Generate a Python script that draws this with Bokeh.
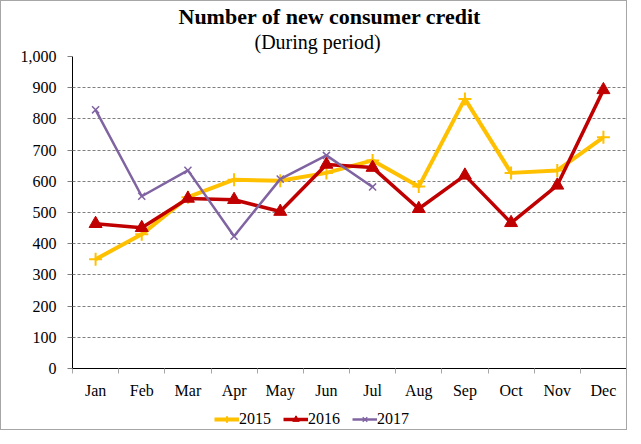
from bokeh.plotting import figure
from bokeh.layouts import column
from bokeh.models import (Range1d, FixedTicker, NumeralTickFormatter, Legend,
                          LegendItem, Title, ColumnDataSource)
from bokeh.embed import file_html
from bokeh.resources import INLINE

months = ["Jan", "Feb", "Mar", "Apr", "May", "Jun",
          "Jul", "Aug", "Sep", "Oct", "Nov", "Dec"]
credit_2015 = [350, 430, 549, 605, 602, 627, 667, 583, 864, 627, 635, 741]
credit_2016 = [464, 451, 545, 541, 503, 654, 644, 512, 619, 467, 587, 893]
credit_2017 = [829, 552, 635, 424, 607, 683, 582]
series_names = ["2015", "2016", "2017"]
y_ticks = [0, 100, 200, 300, 400, 500, 600, 700, 800, 900, 1000]

FONT = "Liberation Serif"
pos = list(range(1, len(months) + 1))
colors = ["#FFC000", "#C00000", "#8064A2"]
line_widths = [4, 3.5, 2.5]
markers = ["cross", "triangle", "x"]
marker_sizes = [13, 13, 10]
marker_lw = [2, 1, 1.5]

p = figure(width=625, height=400, output_backend="svg", toolbar_location=None,
           x_range=Range1d(0.5, len(months) + 0.5), y_range=Range1d(0, 1000),
           min_border_left=71, min_border_right=0, min_border_top=55,
           min_border_bottom=32)
p.outline_line_color = None
p.background_fill_color = "white"
p.border_fill_color = "white"

# grid
p.xgrid.visible = False
p.ygrid.grid_line_color = "#7f7f7f"
p.ygrid.grid_line_dash = "3 2"
p.ygrid.grid_line_width = 1
p.ygrid.ticker = FixedTicker(ticks=y_ticks)

# y axis
ya = p.yaxis[0]
ya.ticker = FixedTicker(ticks=y_ticks)
ya.formatter = NumeralTickFormatter(format="0,0")
ya.axis_line_color = "black"
ya.major_tick_out = 5
ya.major_tick_in = 0
ya.major_tick_line_color = "#7f7f7f"
ya.minor_tick_line_color = None
ya.major_label_text_font = FONT
ya.major_label_text_font_size = "16px"
ya.major_label_text_color = "black"
ya.major_label_standoff = 11

# x axis: labels at category centres, ticks at category boundaries
xa = p.xaxis[0]
xa.ticker = FixedTicker(ticks=pos, minor_ticks=[i + 0.5 for i in range(0, len(months) + 1)])
xa.major_label_overrides = {i: m for i, m in zip(pos, months)}
xa.axis_line_color = "black"
xa.major_tick_line_color = None
xa.major_tick_out = 5
xa.major_tick_in = 0
xa.minor_tick_out = 5
xa.minor_tick_in = 0
xa.minor_tick_line_color = "#a6a6a6"
xa.major_label_text_font = FONT
xa.major_label_text_font_size = "16px"
xa.major_label_text_color = "black"
xa.major_label_standoff = 8

sources = [ColumnDataSource(dict(x=pos, y=credit_2015)),
           ColumnDataSource(dict(x=pos, y=credit_2016)),
           ColumnDataSource(dict(x=pos[:len(credit_2017)], y=credit_2017))]

for src, c, lw, mk, ms, mlw in zip(sources, colors, line_widths, markers, marker_sizes, marker_lw):
    p.line("x", "y", source=src, line_color=c, line_width=lw)
    p.scatter("x", "y", source=src, marker=mk, size=ms, line_color=c,
              fill_color=c, line_width=mlw)

subtitle = Title(text="(During period)", align="left", offset=182,
                 text_font=FONT, text_font_size="20px", text_font_style="normal",
                 text_color="black", standoff=8)
title = Title(text="Number of new consumer credit", align="left", offset=106,
              text_font=FONT, text_font_size="22px", text_font_style="bold",
              text_color="black", standoff=-9)
p.add_layout(subtitle, "above")
p.add_layout(title, "above")

# legend strip below the chart (its own small canvas; the series are out of its view)
lg = figure(width=625, height=28, output_backend="svg", toolbar_location=None,
            x_range=Range1d(-2, -1), y_range=Range1d(-2, -1),
            x_axis_location=None, y_axis_location=None,
            min_border=0, min_border_left=0, min_border_right=0,
            min_border_top=0, min_border_bottom=0)
lg.grid.visible = False
lg.outline_line_color = None
lg.background_fill_color = "white"
lg.border_fill_color = "white"
items = []
for name, src, c, lw, mk, ms, mlw in zip(series_names, sources, colors, line_widths, markers, marker_sizes, marker_lw):
    r1 = lg.line("x", "y", source=src, line_color=c, line_width=lw)
    r2 = lg.scatter("x", "y", source=src, marker=mk, size=ms, line_color=c,
                    fill_color=c, line_width=mlw)
    items.append(LegendItem(label=name, renderers=[r1, r2]))
legend = Legend(items=items, orientation="horizontal", location=(142, 1),
                label_text_font=FONT, label_text_font_size="16px",
                label_text_color="black", glyph_width=25, glyph_height=16,
                label_standoff=0, spacing=12, padding=0, margin=0,
                border_line_color=None, background_fill_alpha=0)
lg.add_layout(legend, "center")

layout = column(p, lg, spacing=0)
layout.styles = {"border": "1px solid #a6a6a6"}

open("out.html", "w").write(file_html(layout, INLINE))
